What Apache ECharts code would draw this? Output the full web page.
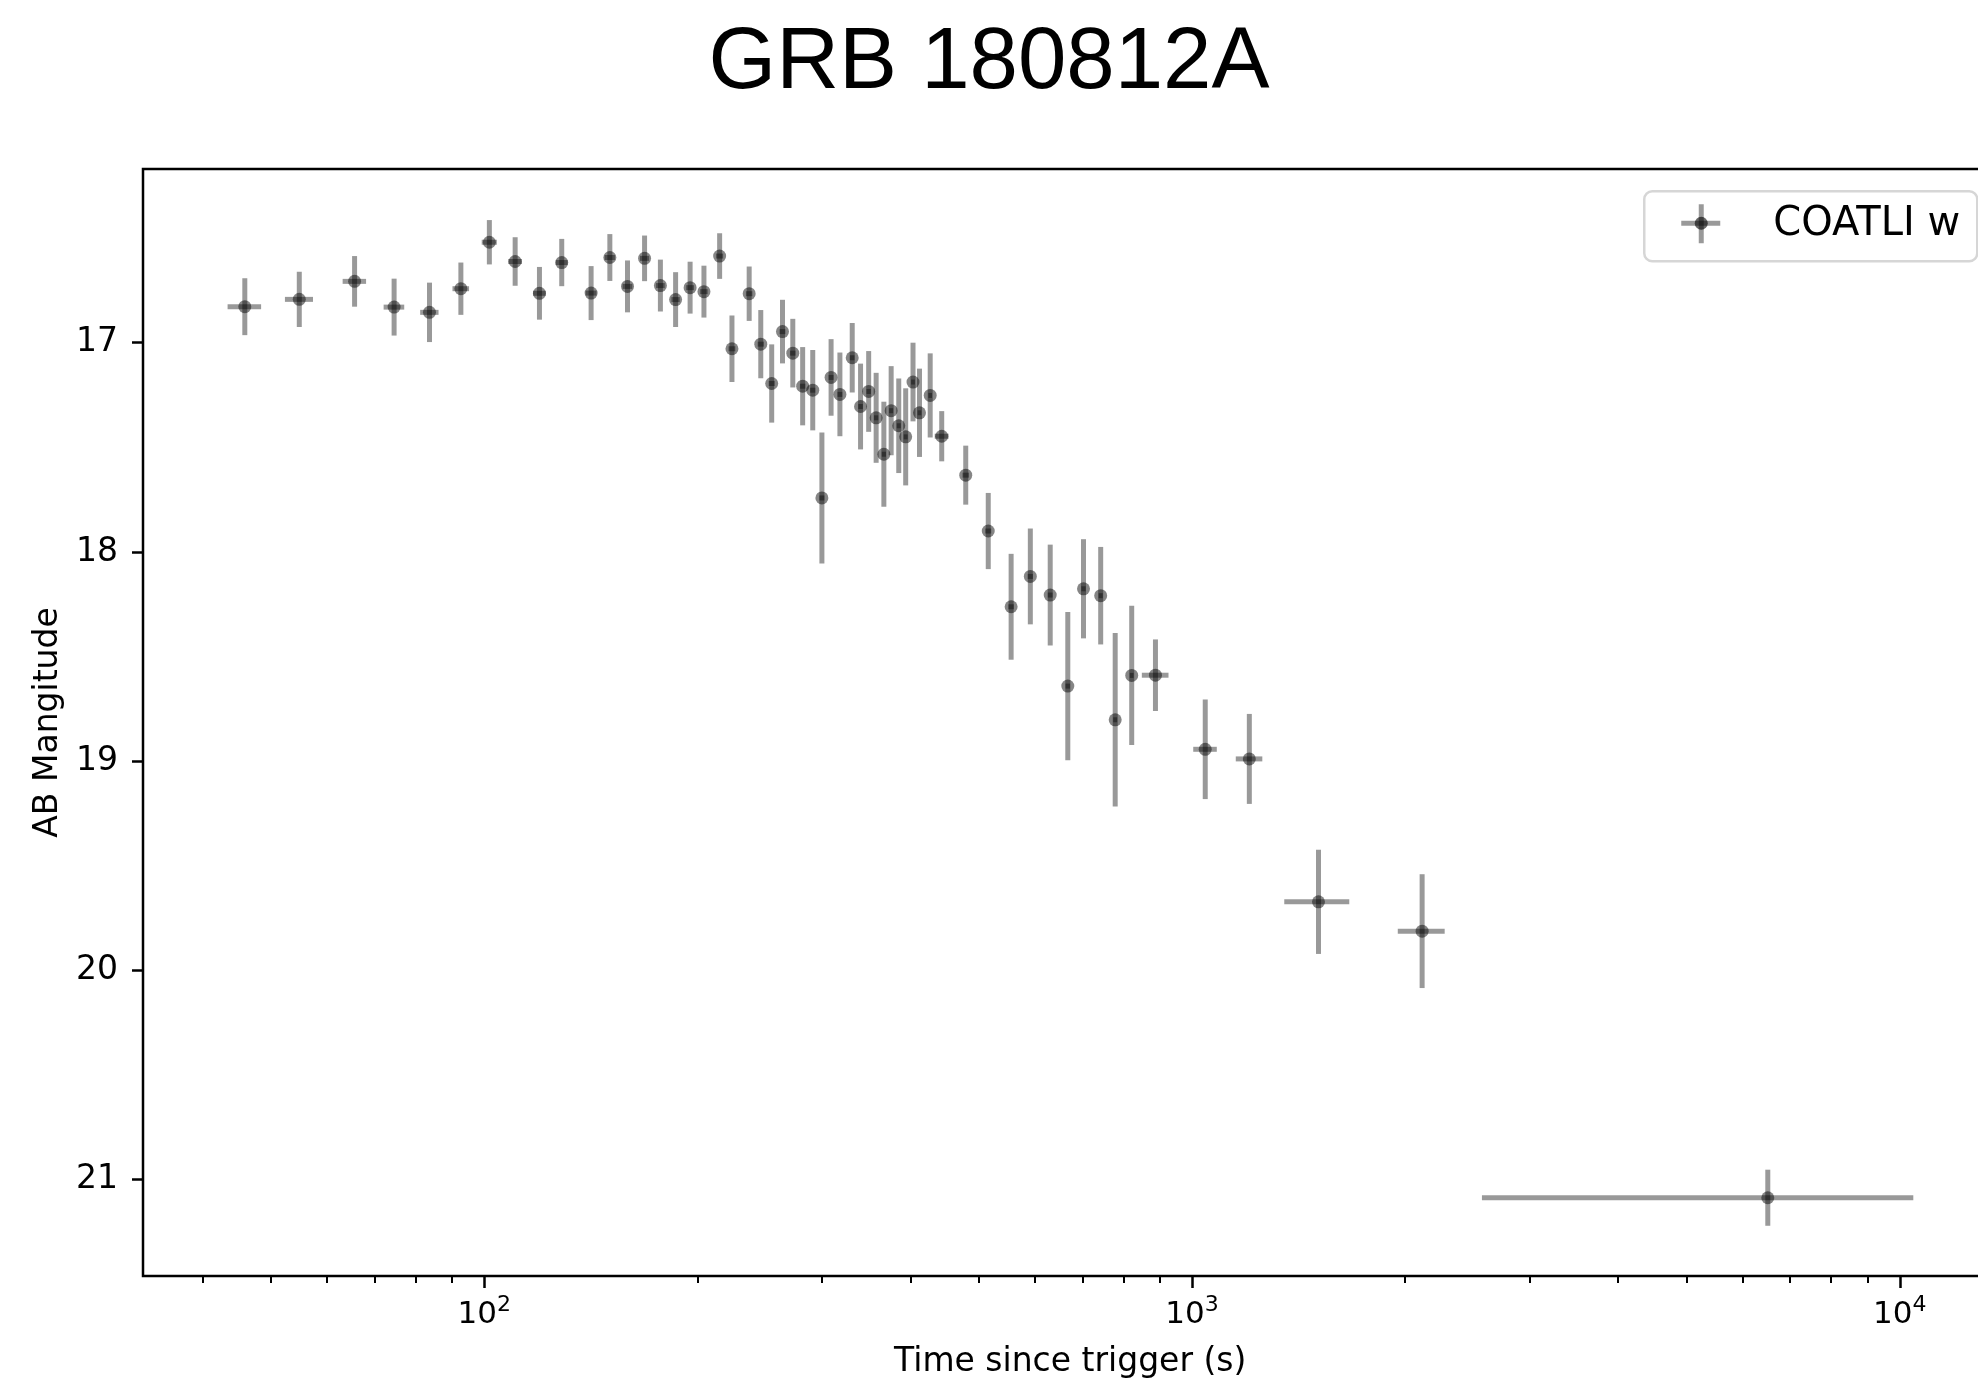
<!DOCTYPE html>
<html>
<head>
<meta charset="utf-8">
<title>GRB 180812A</title>
<script src="https://cdn.jsdelivr.net/npm/echarts@6/dist/echarts.min.js"></script>
<style>
  html, body { margin: 0; padding: 0; background: #fff; overflow: hidden; }
  #chart { width: 1978px; height: 1388px; }
</style>
</head>
<body>
<div id="chart"></div>
<script>
// COATLI w-band light curve of GRB 180812A
// Time since trigger (s)
const times = [
  45.9, 54.8, 65.6, 74.6, 83.7, 92.7, 101.7, 110.6, 119.7, 128.7,
  141.6, 150.5, 159.4, 168.5, 177.4, 186.4, 195.4, 204.4, 215.1,
  223.9, 236.8, 245.9, 254.8, 263.9, 272.9, 281.8, 291.2, 300.0, 309.1,
  318.1, 331.1, 340.2, 349.3, 357.9, 367.0, 375.8, 385.2, 394.0, 403.5,
  412.1, 426.7, 443.0, 479.0, 515.4, 555.2, 591.0, 630.5, 667.6, 702.6,
  743.0, 778.9, 821.9, 887.9, 1044, 1205, 1509, 2114, 6508
];
// Half-width of each exposure (s)
const timeErrs = [
  2.5, 2.5, 2.5, 2.5, 2.5, 2.5, 2.5, 2.5, 2.5, 2.5,
  2.5, 2.5, 2.5, 2.5, 2.5, 2.5, 2.5, 2.5, 2.5,
  2.5, 2.5, 2.5, 2.5, 2.5, 2.5, 2.5, 2.5, 2.5, 2.5,
  2.5, 2.5, 2.5, 2.5, 2.5, 2.5, 2.5, 2.5, 2.5, 2.5,
  2.5, 2.5, 10, 5, 5, 5, 5, 5, 5, 5,
  5, 5, 5, 38.5, 40, 52, 159, 161, 3940
];
// AB magnitude
const mags = [
  16.828, 16.793, 16.707, 16.830, 16.855, 16.742, 16.520, 16.612, 16.764, 16.617,
  16.763, 16.593, 16.731, 16.597, 16.727, 16.794, 16.737, 16.756, 16.586,
  17.029, 16.766, 17.007, 17.195, 16.947, 17.050, 17.208, 17.227, 17.742, 17.166,
  17.247, 17.072, 17.305, 17.233, 17.359, 17.533, 17.325, 17.397, 17.450, 17.188,
  17.335, 17.252, 17.447, 17.633, 17.900, 18.262, 18.117, 18.206, 18.641, 18.176,
  18.209, 18.802, 18.590, 18.589, 18.943, 18.989, 19.672, 19.812, 21.086
];
// 1-sigma magnitude uncertainty
const magErrs = [
  0.136, 0.132, 0.121, 0.136, 0.142, 0.125, 0.106, 0.116, 0.126, 0.113,
  0.129, 0.112, 0.124, 0.109, 0.124, 0.131, 0.124, 0.124, 0.109,
  0.159, 0.130, 0.163, 0.187, 0.152, 0.164, 0.187, 0.192, 0.313, 0.183,
  0.200, 0.166, 0.205, 0.193, 0.215, 0.251, 0.213, 0.226, 0.232, 0.188,
  0.211, 0.201, 0.120, 0.141, 0.182, 0.253, 0.229, 0.241, 0.354, 0.237,
  0.233, 0.415, 0.333, 0.171, 0.238, 0.215, 0.249, 0.272, 0.134
];

const seriesName = 'COATLI w';
const titleText = 'GRB 180812A';
const xMajorTicks = [100, 1000, 10000];
const xMinorTicks = [40, 50, 60, 70, 80, 90, 200, 300, 400, 500, 600, 700, 800, 900,
                     2000, 3000, 4000, 5000, 6000, 7000, 8000, 9000];
const yTicks = [17, 18, 19, 20, 21];

const X_MIN = 32.96, X_MAX = 13740;
const Y_MIN = 16.17, Y_MAX = 21.46;

const errData = times.map((t, i) => [t, mags[i], timeErrs[i], magErrs[i]]);
const pointData = times.map((t, i) => [t, mags[i]]);

const FONT = 'DejaVu Sans';
const BAR_COLOR = 'rgba(0,0,0,0.4)';
const DOT_COLOR = 'rgba(0,0,0,0.6)';

const chart = echarts.init(document.getElementById('chart'), null, { renderer: 'canvas' });

const baseX = {
  type: 'log',
  logBase: 10,
  min: X_MIN,
  max: X_MAX,
  gridIndex: 0,
  position: 'bottom',
  splitLine: { show: false },
  axisLine: { show: false }
};

chart.setOption({
  backgroundColor: '#ffffff',
  animation: false,
  title: {
    text: titleText,
    left: 'center',
    top: 16,
    textStyle: { fontFamily: 'Liberation Sans', fontSize: 87, fontWeight: 'normal', color: '#000' }
  },
  grid: {
    // the plot frame runs past the right edge of the page
    left: 143,
    top: 169,
    width: 1854.5,
    height: 1107,
    outerBoundsMode: 'none',
    containLabel: false,
    show: true,
    borderColor: '#000',
    borderWidth: 2.5,
    backgroundColor: 'transparent'
  },
  xAxis: [
    Object.assign({}, baseX, {
      name: 'Time since trigger (s)',
      nameLocation: 'middle',
      nameGap: 70,
      nameTextStyle: { fontFamily: FONT, fontSize: 33, color: '#000' },
      axisTick: { show: true, length: 12, lineStyle: { color: '#000', width: 2.5 }, customValues: xMajorTicks },
      axisLabel: {
        show: true,
        margin: 18,
        customValues: xMajorTicks,
        formatter: v => '{b|10}{s|' + Math.round(Math.log10(v)) + '}',
        rich: {
          b: { fontFamily: FONT, fontSize: 31, color: '#000', verticalAlign: 'bottom', lineHeight: 36 },
          s: { fontFamily: FONT, fontSize: 22, color: '#000', verticalAlign: 'bottom', lineHeight: 36, padding: [0, 0, 14, 0] }
        }
      }
    }),
    Object.assign({}, baseX, {
      axisTick: { show: true, length: 7, lineStyle: { color: '#000', width: 2 }, customValues: xMinorTicks },
      axisLabel: { show: false }
    })
  ],
  yAxis: {
    type: 'value',
    inverse: true,
    min: Y_MIN,
    max: Y_MAX,
    name: 'AB Mangitude',
    nameLocation: 'middle',
    nameGap: 78,
    nameTextStyle: { fontFamily: FONT, fontSize: 33, color: '#000' },
    splitLine: { show: false },
    axisLine: { show: false },
    axisTick: { show: true, length: 11, lineStyle: { color: '#000', width: 2.5 }, customValues: yTicks },
    axisLabel: { fontFamily: FONT, fontSize: 33, color: '#000', margin: 25, customValues: yTicks }
  },
  series: [
    {
      name: seriesName,
      type: 'custom',
      xAxisIndex: 0,
      yAxisIndex: 0,
      data: errData,
      encode: { x: 0, y: 1 },
      z: 2,
      renderItem: function (params, api) {
        const t = api.value(0), m = api.value(1), dt = api.value(2), dm = api.value(3);
        const top = api.coord([t, m - dm]);
        const bot = api.coord([t, m + dm]);
        const left = api.coord([t - dt, m]);
        const right = api.coord([t + dt, m]);
        const style = { stroke: BAR_COLOR, lineWidth: 5, lineCap: 'butt' };
        return {
          type: 'group',
          children: [
            { type: 'line', shape: { x1: left[0], y1: left[1], x2: right[0], y2: right[1] }, style: style },
            { type: 'line', shape: { x1: top[0], y1: top[1], x2: bot[0], y2: bot[1] }, style: style }
          ]
        };
      }
    },
    {
      name: seriesName,
      type: 'scatter',
      xAxisIndex: 0,
      yAxisIndex: 0,
      data: pointData,
      symbol: 'circle',
      symbolSize: 13,
      z: 3,
      itemStyle: { color: DOT_COLOR, borderWidth: 0 }
    }
  ],
  graphic: [
    {
      type: 'group',
      left: 1643,
      top: 190,
      children: [
        { type: 'rect', shape: { x: 0, y: 0, width: 333, height: 70, r: 8 },
          style: { fill: '#fff', stroke: '#d6d6d6', lineWidth: 2.5 } },
        { type: 'line', shape: { x1: 37, y1: 32, x2: 76, y2: 32 }, style: { stroke: BAR_COLOR, lineWidth: 5 } },
        { type: 'line', shape: { x1: 57, y1: 13, x2: 57, y2: 52 }, style: { stroke: BAR_COLOR, lineWidth: 5 } },
        { type: 'circle', shape: { cx: 57, cy: 32, r: 6.5 }, style: { fill: DOT_COLOR } },
        { type: 'text', x: 129, y: 33,
          style: { text: seriesName, fontFamily: FONT, fontSize: 40, fill: '#000', verticalAlign: 'middle', align: 'left' } }
      ]
    }
  ]
});
</script>
</body>
</html>
